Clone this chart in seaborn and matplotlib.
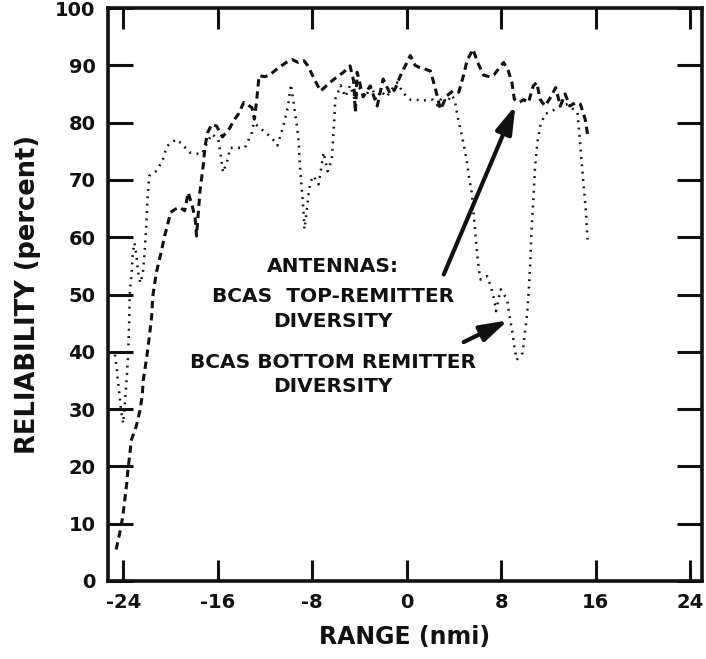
import matplotlib
matplotlib.use("Agg")
import matplotlib.pyplot as plt
import pandas as pd
import seaborn as sns

# ---------------- data ----------------
TOP_X = [-24.6, -24.2, -24.0, -23.85, -23.7, -23.6, -23.3, -22.9, -22.6, -22.4,
         -22.3, -22.0, -21.8, -21.6, -21.5, -21.2, -20.8, -20.5, -20.3, -20.0,
         -19.6, -19.2, -18.8, -18.5, -18.15, -17.9, -17.8, -17.5, -17.2, -17.1,
         -16.85, -16.5, -16.1, -15.6, -15.0, -14.6, -14.25, -13.8, -13.4, -13.1,
         -12.9, -12.7, -12.5, -12.0, -11.5, -10.9, -10.2, -9.7, -9.2, -8.7,
         -8.4, -7.8, -7.3, -6.5, -5.9, -5.35, -4.8, -4.5, -4.35, -4.2,
         -3.7, -3.1, -2.5, -2.0, -1.4, -1.0, -0.6, -0.27, 0.3, 0.7,
         1.1, 1.6, 2.0, 2.4, 2.85, 3.4, 3.9, 4.4, 4.8, 5.1,
         5.6, 6.0, 6.5, 7.0, 7.4, 8.2, 8.6, 8.9, 9.1, 9.5,
         9.9, 10.3, 10.7, 11.0, 11.3, 11.7, 12.2, 12.6, 13.0, 13.4,
         13.8, 14.3, 14.7, 15.1, 15.3]
TOP_Y = [5.5, 9.3, 11.9, 14.5, 17.1, 19.4, 24.7, 27.0, 29.6, 32.2,
         35.1, 39.2, 42.5, 46.0, 49.7, 53.8, 57.3, 60.2, 61.7, 64.3,
         64.9, 65.2, 64.6, 67.8, 65.4, 63.1, 60.2, 68.1, 73.0, 75.6,
         78.3, 79.7, 79.4, 77.5, 79.0, 80.5, 81.5, 83.5, 83.0, 82.6,
         80.6, 84.0, 88.2, 88.0, 88.5, 89.5, 90.5, 91.0, 90.5, 90.8,
         90.0, 87.5, 85.5, 87.0, 88.0, 88.8, 89.9, 87.3, 81.8, 88.8,
         84.5, 86.4, 82.9, 87.6, 85.0, 85.8, 87.9, 89.3, 91.7, 90.0,
         89.6, 89.3, 89.0, 86.1, 82.3, 84.7, 85.5, 85.3, 88.2, 90.8,
         92.8, 90.5, 88.3, 88.0, 88.4, 90.5, 89.0, 87.0, 84.1, 83.5,
         84.0, 83.5, 86.4, 87.0, 84.0, 82.9, 84.5, 86.1, 82.9, 85.0,
         82.9, 83.5, 83.2, 80.6, 78.0]

BOT_X = [-24.7, -24.55, -24.4, -24.25, -24.1, -24.0, -23.9, -23.75, -23.6, -23.5,
         -23.45, -23.3, -23.2, -23.05, -22.9, -22.75, -22.55, -22.35, -22.2, -22.05,
         -21.95, -21.8, -21.3, -20.7, -20.3, -19.5, -19.0, -18.4, -17.9, -17.35,
         -16.9, -16.5, -15.95, -15.7, -15.55, -15.15, -14.95, -14.2, -13.7, -13.1,
         -12.95, -12.0, -11.45, -10.95, -10.6, -10.3, -10.05, -9.8, -9.6, -9.3,
         -9.17, -9.03, -8.75, -8.66, -8.46, -8.18, -7.9, -7.47, -7.25, -7.05,
         -6.7, -6.35, -6.15, -6.05, -5.6, -5.2, -4.8, -4.4, -4.0, -3.5,
         -3.0, -2.6, -2.2, -1.7, -1.2, -0.8, -0.4, 0.0, 0.3, 0.8,
         1.3, 1.8, 2.2, 2.6, 3.0, 3.4, 3.8, 4.05, 4.35, 4.6,
         4.85, 5.1, 5.3, 5.5, 5.65, 5.8, 5.9, 5.95, 6.1, 6.25,
         6.8, 7.1, 7.4, 7.55, 7.95, 8.5, 8.65, 8.95, 9.1, 9.3,
         9.8, 10.0, 10.2, 10.35, 10.45, 10.55, 10.7, 10.85, 11.05, 11.3,
         11.7, 12.3, 12.9, 13.5, 14.0, 14.45, 14.6, 14.75, 14.95, 15.15,
         15.3]
BOT_Y = [39.5, 37.0, 34.0, 31.0, 28.5, 27.5, 30.0, 34.0, 39.0, 45.0,
         50.0, 53.5, 57.0, 59.0, 57.0, 54.0, 52.0, 53.5, 57.0, 62.0,
         66.6, 70.7, 71.3, 73.2, 75.9, 77.1, 76.2, 74.8, 74.6, 74.5,
         76.5, 78.0, 77.1, 73.6, 71.3, 73.6, 75.6, 75.6, 75.6, 78.3,
         80.0, 78.3, 77.4, 76.0, 78.3, 80.6, 82.9, 86.7, 83.8, 79.4,
         77.1, 71.9, 64.9, 61.4, 64.9, 69.5, 70.7, 69.2, 71.9, 74.8,
         71.5, 73.5, 80.0, 84.1, 86.5, 84.5, 86.5, 84.0, 86.0, 84.5,
         86.5, 84.0, 85.5, 84.5, 86.0, 87.0, 85.5, 84.5, 84.0, 84.0,
         83.8, 84.0, 84.0, 83.0, 84.5, 83.5, 84.8, 84.0, 80.6, 78.3,
         75.9, 73.0, 70.1, 67.8, 64.3, 60.8, 58.4, 57.3, 54.4, 52.6,
         53.2, 51.5, 49.1, 47.1, 50.9, 49.1, 46.8, 43.3, 41.0, 38.6,
         39.8, 43.3, 46.8, 51.5, 55.5, 60.8, 66.0, 72.0, 76.5, 79.4,
         81.5, 82.0, 82.8, 83.2, 82.5, 81.8, 78.3, 74.5, 69.5, 64.9,
         59.6]

X_TICKS = [-24, -16, -8, 0, 8, 16, 24]
Y_TICKS = [0, 10, 20, 30, 40, 50, 60, 70, 80, 90, 100]

# ---------------- style ----------------
sns.set_theme(style="white")
plt.rcParams["font.family"] = ["DejaVu Sans"]
plt.rcParams["font.weight"] = "bold"
INK = "#111111"

fig = plt.figure(figsize=(7.06, 6.59), dpi=100)
ax = fig.add_axes([108 / 706, 1 - 581 / 659, 594 / 706, 573 / 659])

top_df = pd.DataFrame({"range": TOP_X, "reliability": TOP_Y})
bot_df = pd.DataFrame({"range": BOT_X, "reliability": BOT_Y})

sns.lineplot(data=top_df, x="range", y="reliability", ax=ax, sort=False,
             estimator=None, color=INK, linewidth=2.2,
             linestyle=(0, (2.4, 1.6)))
sns.lineplot(data=bot_df, x="range", y="reliability", ax=ax, sort=False,
             estimator=None, color=INK, linewidth=1.8,
             linestyle=(0, (0.75, 2.2)))

ax.set_xlim(-25.29, 24.99)
ax.set_ylim(0, 100)
ax.set_xticks(X_TICKS)
ax.set_yticks(Y_TICKS)
ax.set_xticklabels([str(v) for v in X_TICKS])
ax.set_yticklabels([str(v) for v in Y_TICKS])

ax.tick_params(axis="x", direction="in", length=15, width=2.2, top=True,
               bottom=True, labelsize=14, pad=9, colors=INK)
ax.tick_params(axis="y", direction="in", length=18, width=2.2, left=True,
               right=True, labelsize=14, pad=9, colors=INK)
for lab in ax.get_xticklabels() + ax.get_yticklabels():
    lab.set_fontweight("bold")

for s in ax.spines.values():
    s.set_visible(True)
    s.set_linewidth(2.6)
    s.set_color(INK)

ax.set_xlabel("RANGE (nmi)", fontsize=17, fontweight="bold", labelpad=9,
              color=INK)
ax.set_ylabel("RELIABILITY (percent)", fontsize=18.5, fontweight="bold",
              labelpad=10, color=INK)

# ---------------- annotations ----------------
tx = -6.23
for txt, yy in [("ANTENNAS:", 54.9), ("BCAS  TOP-REMITTER", 49.7),
                ("DIVERSITY", 45.3), ("BCAS BOTTOM REMITTER", 38.2),
                ("DIVERSITY", 34.0)]:
    ax.text(tx, yy, txt, ha="center", va="center", fontsize=14.5,
            fontweight="bold", color=INK)

arrow_kw = dict(arrowstyle="-|>,head_length=1.4,head_width=0.42", color=INK,
                lw=3, shrinkA=0, shrinkB=0, mutation_scale=12)
ax.annotate("", xy=(9.2, 83.0), xytext=(3.13, 53.5), arrowprops=arrow_kw)
ax.annotate("", xy=(8.58, 45.5), xytext=(4.82, 41.7), arrowprops=arrow_kw)

fig.savefig("out.png", dpi=100, facecolor="white")
